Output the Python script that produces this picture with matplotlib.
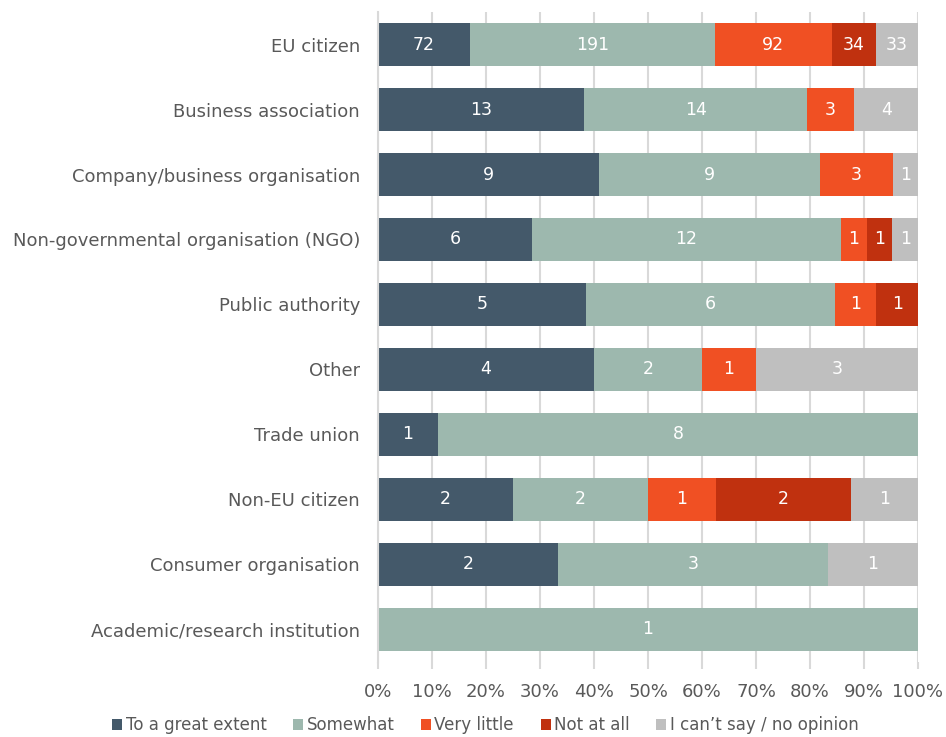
import numpy as np
import matplotlib.pyplot as plt
from matplotlib.ticker import PercentFormatter

categories = ['EU citizen', 'Business association', 'Company/business organisation',
              'Non-governmental organisation (NGO)', 'Public authority', 'Other',
              'Trade union', 'Non-EU citizen', 'Consumer organisation',
              'Academic/research institution']
great = [72, 13, 9, 6, 5, 4, 1, 2, 2, 0]
somewhat = [191, 14, 9, 12, 6, 2, 8, 2, 3, 1]
very_little = [92, 3, 3, 1, 1, 1, 0, 1, 0, 0]
not_at_all = [34, 0, 0, 1, 1, 0, 0, 2, 0, 0]
no_opinion = [33, 4, 1, 1, 0, 3, 0, 1, 1, 0]
series = ['To a great extent', 'Somewhat', 'Very little', 'Not at all', 'I can\u2019t say / no opinion']
colors = ['#44596a', '#9db8ae', '#f05023', '#c0310f', '#bfbfbf']

counts = np.array([great, somewhat, very_little, not_at_all, no_opinion], dtype=float)
shares = counts / counts.sum(axis=0) * 100
txt = '#595959'

fig = plt.figure(figsize=(9.46, 7.37), dpi=100)
ax = fig.add_axes([0.3996, 0.1018, 0.5708, 0.8819])
y = np.arange(len(categories))
left = np.zeros(len(categories))
for i in range(len(series)):
    ax.barh(y, shares[i], left=left, height=0.66, color=colors[i], label=series[i], zorder=2)
    for j in range(len(categories)):
        if counts[i, j] > 0:
            ax.text(left[j] + shares[i, j] / 2, y[j], '%d' % counts[i, j], ha='center', va='center',
                    color='white', fontsize=12.5, zorder=3)
    left += shares[i]

ax.set_xlim(0, 100)
ax.set_ylim(len(categories) - 0.5, -0.5)
ax.set_yticks(y)
ax.set_yticklabels(categories)
ax.set_xticks(np.arange(0, 101, 10))
ax.xaxis.set_major_formatter(PercentFormatter(decimals=0))
ax.grid(axis='x', color='#d9d9d9', linewidth=1.5, zorder=0)
ax.set_axisbelow(True)
for s in ['top', 'right', 'bottom']:
    ax.spines[s].set_visible(False)
ax.spines['left'].set_color('#d9d9d9')
ax.spines['left'].set_linewidth(1.5)
ax.tick_params(axis='y', length=0, pad=13, labelsize=13, labelcolor=txt)
ax.tick_params(axis='x', length=5, width=1.5, color='#d9d9d9', pad=10, labelsize=13, labelcolor=txt)

fig.legend(loc='center', bbox_to_anchor=(0.513, 0.016), ncol=5, frameon=False,
           handlelength=0.6, handleheight=0.6, handletextpad=0.2, columnspacing=1.6,
           fontsize=12, labelcolor=txt, borderpad=0.1)

fig.savefig('out.png', dpi=100)
